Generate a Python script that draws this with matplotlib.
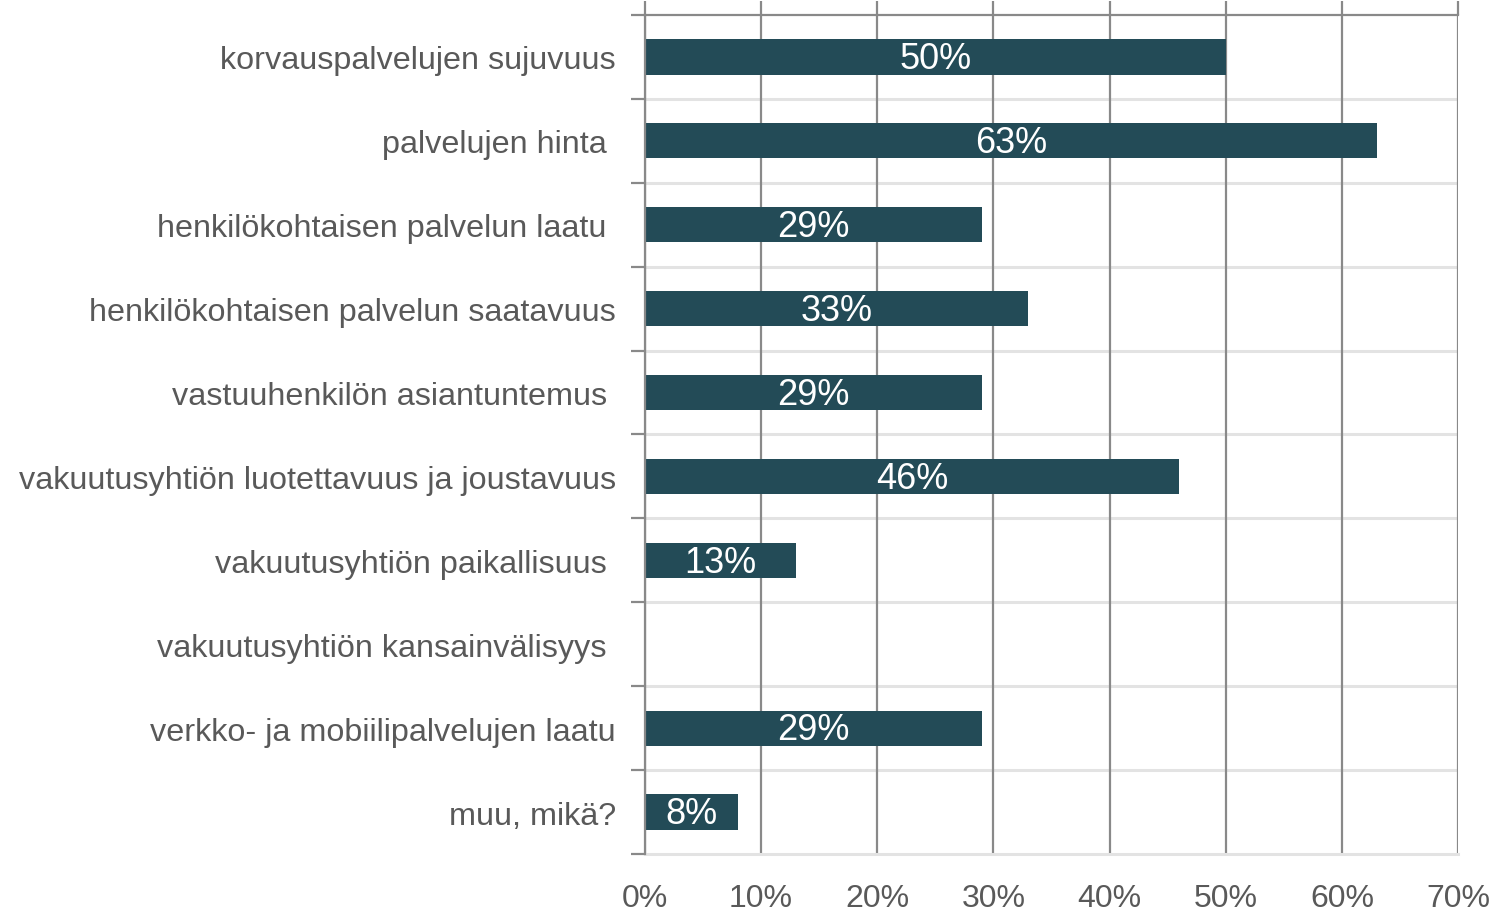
import matplotlib.pyplot as plt
from matplotlib.ticker import FuncFormatter, MultipleLocator

plt.rcParams['font.family'] = ['Liberation Sans', 'DejaVu Sans']

# data (top to bottom)
categories = ['korvauspalvelujen sujuvuus', 'palvelujen hinta ',
              'henkilökohtaisen palvelun laatu ',
              'henkilökohtaisen palvelun saatavuus',
              'vastuuhenkilön asiantuntemus ',
              'vakuutusyhtiön luotettavuus ja joustavuus',
              'vakuutusyhtiön paikallisuus ',
              'vakuutusyhtiön kansainvälisyys ',
              'verkko- ja mobiilipalvelujen laatu',
              'muu, mikä?']
values = [50, 63, 29, 33, 29, 46, 13, 0, 29, 8]

bar_color = '#234b57'
text_gray = '#595959'
grid_dark = '#898989'
grid_light = '#e3e3e3'

fig = plt.figure(figsize=(14.95, 9.12), dpi=100)
ax = fig.add_axes([0.4314, 0.0625, 0.5439, 0.92])

n = len(categories)
pos = list(range(n))
rects = ax.barh(pos, values, height=0.42, color=bar_color, zorder=3)

ax.set_ylim(n - 0.5, -0.5)
ax.set_xlim(0, 70)

# category labels centered between boundary ticks
ax.set_yticks(pos)
ax.set_yticklabels(categories, fontsize=23.3, color=text_gray)
ax.set_yticks([i - 0.5 for i in range(n + 1)], minor=True)
ax.tick_params(axis='y', which='major', length=0, pad=21)
ax.tick_params(axis='y', which='minor', length=10, width=1.6, color=grid_dark)

ax.xaxis.set_major_locator(MultipleLocator(10))
ax.xaxis.set_major_formatter(FuncFormatter(lambda v, p: '{:.0f}%'.format(v)))
ax.tick_params(axis='x', which='major', labelsize=23, labelcolor=text_gray,
               bottom=False, top=True, length=10, width=1.6, color=grid_dark,
               pad=11)

# gridlines
ax.xaxis.grid(True, color=grid_dark, linewidth=1.6, zorder=1)
for b in range(1, n):
    ax.axhline(b - 0.5, color=grid_light, linewidth=2.2, zorder=0)

ax.spines['right'].set_visible(False)
ax.spines['left'].set_color(grid_dark)
ax.spines['left'].set_linewidth(1.6)
ax.spines['left'].set_zorder(4)
ax.spines['top'].set_color(grid_dark)
ax.spines['top'].set_linewidth(1.6)
ax.spines['bottom'].set_color(grid_light)
ax.spines['bottom'].set_linewidth(2.2)

# data labels centered inside bars
for rect, v in zip(rects, values):
    if v <= 0:
        continue
    ax.text(v / 2, rect.get_y() + rect.get_height() / 2 + 0.02, '{}%'.format(v),
            ha='center', va='center', color='white', fontsize=26, zorder=5)

fig.savefig('out.png', dpi=100)
